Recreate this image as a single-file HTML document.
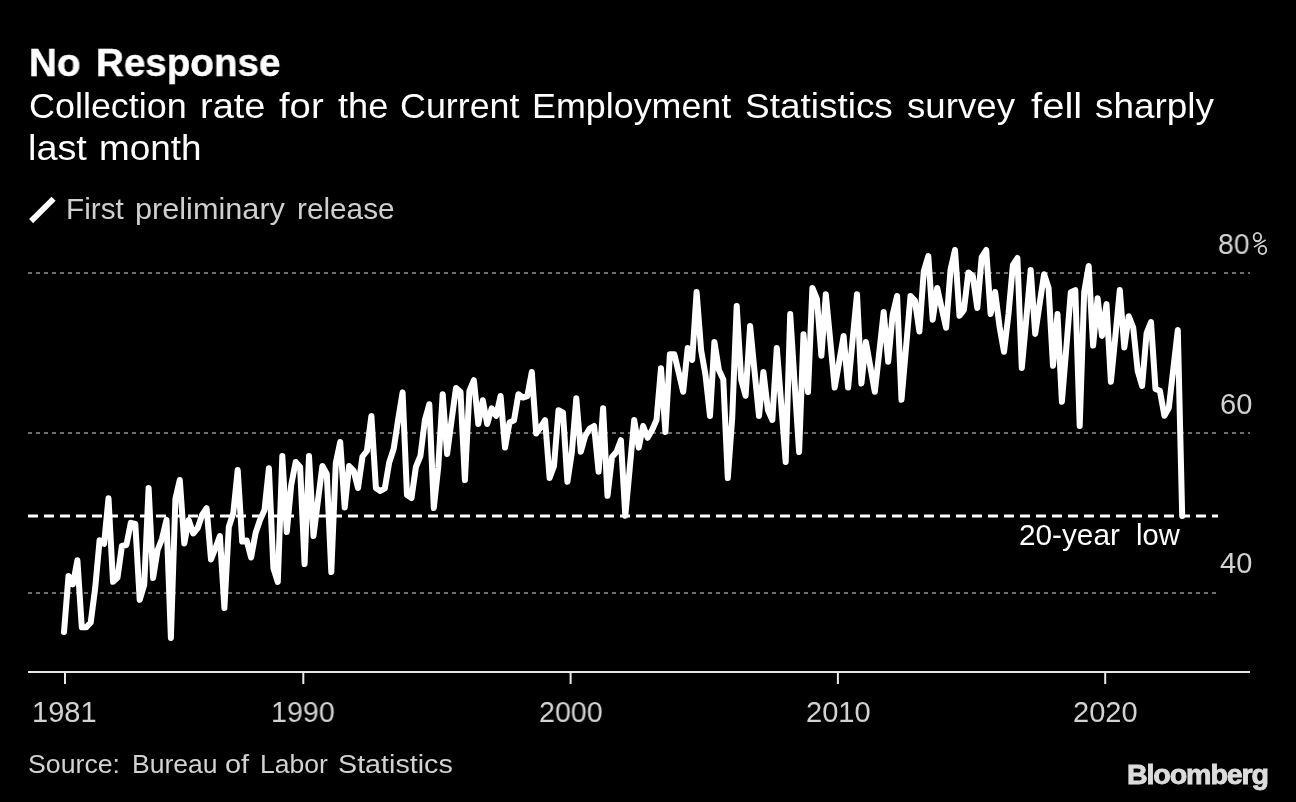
<!DOCTYPE html>
<html><head><meta charset="utf-8"><title>No Response</title>
<style>
html,body{margin:0;padding:0;background:#000;}
body{width:1296px;height:802px;position:relative;overflow:hidden;font-family:"Liberation Sans",sans-serif;}
.t{position:absolute;white-space:nowrap;line-height:1;transform-origin:0 0;color:#fff;will-change:transform;}
.b{font-weight:bold;}
.ti{-webkit-text-stroke:0.45px #fff;}
.g{color:#d2d2d2;}
.lg{color:#cfcfcf;}
.bb{color:#dcdcdc;}
svg{position:absolute;left:0;top:0;}
</style></head><body>

<div class="t b ti" style="left:28.62px;top:43.24px;font-size:39px;transform:scaleX(0.9895)">No</div>
<div class="t b ti" style="left:96.02px;top:43.24px;font-size:39px;transform:scaleX(0.9894)">Response</div>
<div class="t " style="left:29.27px;top:88.27px;font-size:35px;transform:scaleX(1.0263)">Collection</div>
<div class="t " style="left:199.83px;top:88.27px;font-size:35px;transform:scaleX(1.0863)">rate</div>
<div class="t " style="left:279.40px;top:88.27px;font-size:35px;transform:scaleX(1.0925)">for</div>
<div class="t " style="left:337.50px;top:88.27px;font-size:35px;transform:scaleX(1.0331)">the</div>
<div class="t " style="left:400.23px;top:88.27px;font-size:35px;transform:scaleX(1.0239)">Current</div>
<div class="t " style="left:531.70px;top:88.27px;font-size:35px;transform:scaleX(1.0244)">Employment</div>
<div class="t " style="left:744.69px;top:88.27px;font-size:35px;transform:scaleX(1.0557)">Statistics</div>
<div class="t " style="left:907.00px;top:88.27px;font-size:35px;transform:scaleX(1.0474)">survey</div>
<div class="t " style="left:1031.25px;top:88.27px;font-size:35px;transform:scaleX(1.1463)">fell</div>
<div class="t " style="left:1095.00px;top:88.27px;font-size:35px;transform:scaleX(1.0536)">sharply</div>
<div class="t " style="left:28.34px;top:129.87px;font-size:35px;transform:scaleX(1.0807)">last</div>
<div class="t " style="left:99.14px;top:129.87px;font-size:35px;transform:scaleX(1.0527)">month</div>
<div class="t lg" style="left:66.05px;top:195.25px;font-size:29px;transform:scaleX(1.0246)">First</div>
<div class="t lg" style="left:134.54px;top:195.25px;font-size:29px;transform:scaleX(1.0572)">preliminary</div>
<div class="t lg" style="left:296.97px;top:195.25px;font-size:29px;transform:scaleX(1.0260)">release</div>
<div class="t g" style="left:1218.02px;top:230.20px;font-size:29px;transform:scaleX(0.9758)">80</div>
<div class="t g" style="left:1219.80px;top:389.85px;font-size:29px;transform:scaleX(1.0024)">60</div>
<div class="t g" style="left:1220.30px;top:548.85px;font-size:29px;transform:scaleX(0.9862)">40</div>
<div class="t " style="left:1018.72px;top:520.85px;font-size:29px;transform:scaleX(1.0254)">20-year</div>
<div class="t " style="left:1136.19px;top:520.85px;font-size:29px;transform:scaleX(1.0052)">low</div>
<div class="t g" style="left:31.75px;top:697.55px;font-size:29px;transform:scaleX(0.9978)">1981</div>
<div class="t g" style="left:271.43px;top:697.55px;font-size:29px;transform:scaleX(0.9872)">1990</div>
<div class="t g" style="left:538.76px;top:697.55px;font-size:29px;transform:scaleX(0.9858)">2000</div>
<div class="t g" style="left:805.90px;top:697.55px;font-size:29px;transform:scaleX(1.0018)">2010</div>
<div class="t g" style="left:1073.00px;top:697.55px;font-size:29px;transform:scaleX(0.9978)">2020</div>
<div class="t g" style="left:27.89px;top:751.32px;font-size:26.5px;transform:scaleX(1.0072)">Source:</div>
<div class="t g" style="left:131.76px;top:751.32px;font-size:26.5px;transform:scaleX(0.9943)">Bureau</div>
<div class="t g" style="left:225.16px;top:751.32px;font-size:26.5px;transform:scaleX(1.0926)">of</div>
<div class="t g" style="left:259.51px;top:751.32px;font-size:26.5px;transform:scaleX(0.9931)">Labor</div>
<div class="t g" style="left:337.92px;top:751.32px;font-size:26.5px;transform:scaleX(1.0823)">Statistics</div>
<div class="t b bb" style="left:1126.96px;top:760.80px;font-size:28.00px;transform:scaleX(1.0219);letter-spacing:-1.10px;-webkit-text-stroke:0.90px #dcdcdc;">Bloomberg</div>
<svg width="1296" height="802" viewBox="0 0 1296 802">
<line x1="28" y1="273" x2="1216" y2="273" stroke="#6c6c6c" stroke-width="2" stroke-dasharray="4 4"/>
<line x1="28" y1="433" x2="1216" y2="433" stroke="#6c6c6c" stroke-width="2" stroke-dasharray="4 4"/>
<line x1="28" y1="593" x2="1216" y2="593" stroke="#6c6c6c" stroke-width="2" stroke-dasharray="4 4"/>
<line x1="1224" y1="273" x2="1250" y2="273" stroke="#6c6c6c" stroke-width="2" stroke-dasharray="4 4"/>
<line x1="1224" y1="433" x2="1250" y2="433" stroke="#6c6c6c" stroke-width="2" stroke-dasharray="4 4"/>
<rect x="28" y="671" width="1222" height="2" fill="#e8e8e8"/>
<rect x="64" y="672" width="2" height="12" fill="#e8e8e8"/>
<rect x="302.3" y="672" width="2" height="12" fill="#e8e8e8"/>
<rect x="569.6" y="672" width="2" height="12" fill="#e8e8e8"/>
<rect x="836.9" y="672" width="2" height="12" fill="#e8e8e8"/>
<rect x="1104.2" y="672" width="2" height="12" fill="#e8e8e8"/>
<polyline fill="none" stroke="#fff" stroke-width="6" stroke-linejoin="round" stroke-linecap="round" points="64.0,632.0 68.5,576.0 72.9,584.3 77.4,560.3 81.8,627.3 86.3,627.3 90.7,622.5 95.2,588.0 99.6,540.2 104.1,543.8 108.5,498.2 113.0,581.8 117.5,577.5 121.9,546.0 126.4,545.0 130.8,522.8 135.3,524.0 139.7,599.8 144.2,585.0 148.6,488.0 153.1,578.0 157.6,550.0 162.0,538.8 166.5,519.9 170.9,638.0 175.4,499.0 179.8,480.0 184.3,543.5 188.7,520.0 193.2,533.5 197.7,528.0 202.1,515.0 206.6,508.2 211.0,559.5 215.5,548.0 219.9,536.0 224.4,608.0 228.8,527.0 233.3,513.0 237.7,470.0 242.2,541.5 246.7,540.5 251.1,557.5 255.6,533.0 260.0,520.0 264.5,510.0 268.9,468.2 273.4,568.0 277.8,582.0 282.3,456.0 286.8,532.0 291.2,485.0 295.7,462.0 300.1,467.0 304.6,564.0 309.0,456.0 313.5,536.0 317.9,501.0 322.4,466.0 326.8,474.0 331.3,572.0 335.8,463.0 340.2,442.0 344.7,507.6 349.1,466.0 353.6,470.5 358.0,488.0 362.5,456.5 366.9,451.0 371.4,416.0 375.9,488.0 380.3,491.0 384.8,488.5 389.2,462.5 393.7,448.8 398.1,420.0 402.6,392.4 407.0,495.0 411.5,498.0 415.9,467.0 420.4,456.0 424.9,420.0 429.3,404.2 433.8,508.0 438.2,467.5 442.7,394.2 447.1,454.0 451.6,420.0 456.0,388.0 460.5,392.0 464.9,480.0 469.4,391.0 473.9,380.2 478.3,424.0 482.8,400.2 487.2,424.0 491.7,408.4 496.1,415.8 500.6,396.0 505.0,447.6 509.5,422.5 514.0,420.4 518.4,394.2 522.9,397.6 527.3,396.2 531.8,372.0 536.2,433.5 540.7,427.0 545.1,420.2 549.6,478.0 554.0,466.0 558.5,410.2 563.0,412.6 567.4,481.8 571.9,452.0 576.3,398.2 580.8,451.8 585.2,436.0 589.7,428.5 594.1,426.0 598.6,471.8 603.1,408.2 607.5,495.8 612.0,457.0 616.4,452.0 620.9,440.2 625.3,515.8 629.8,467.5 634.2,420.0 638.7,447.6 643.1,426.0 647.6,437.8 652.1,430.0 656.5,420.0 661.0,368.2 665.4,432.0 669.9,354.2 674.3,354.2 678.8,373.0 683.2,391.8 687.7,348.0 692.2,359.9 696.6,292.0 701.1,350.0 705.5,375.0 710.0,416.0 714.4,342.0 718.9,370.0 723.3,379.4 727.8,478.0 732.2,418.0 736.7,305.9 741.2,380.0 745.6,395.8 750.1,325.9 754.5,371.0 759.0,416.0 763.4,372.0 767.9,410.0 772.3,420.0 776.8,348.0 781.3,405.0 785.7,462.0 790.2,314.0 794.6,383.0 799.1,452.0 803.5,334.2 808.0,392.0 812.4,288.0 816.9,299.0 821.4,355.8 825.8,294.2 830.3,341.0 834.7,387.6 839.2,362.0 843.6,336.0 848.1,387.6 852.5,341.0 857.0,294.2 861.4,383.5 865.9,342.0 870.4,367.0 874.8,391.8 879.3,352.0 883.7,312.0 888.2,361.8 892.6,315.0 897.1,296.0 901.5,399.8 906.0,348.0 910.5,296.0 914.9,300.6 919.4,331.5 923.8,271.0 928.3,256.0 932.7,319.7 937.2,288.0 941.6,307.8 946.1,327.8 950.5,270.0 955.0,250.0 959.5,315.7 963.9,310.0 968.4,272.4 972.8,276.0 977.3,308.0 981.7,257.0 986.2,250.0 990.6,314.0 995.1,292.0 999.6,327.0 1004.0,351.8 1008.5,314.0 1012.9,265.0 1017.4,258.0 1021.8,368.0 1026.3,319.0 1030.7,270.0 1035.2,333.9 1039.6,304.0 1044.1,274.2 1048.6,288.0 1053.0,365.8 1057.5,314.0 1061.9,401.8 1066.4,347.0 1070.8,292.2 1075.3,290.2 1079.7,426.0 1084.2,292.0 1088.7,266.0 1093.1,345.6 1097.6,298.2 1102.0,335.9 1106.5,304.1 1110.9,381.8 1115.4,336.0 1119.8,290.0 1124.3,347.6 1128.7,316.2 1133.2,327.5 1137.7,371.0 1142.1,385.9 1146.6,333.0 1151.0,322.0 1155.5,389.0 1159.9,390.8 1164.4,415.8 1168.8,408.0 1173.3,369.0 1177.8,330.0 1182.2,516.0"/>
<line x1="28" y1="516" x2="1218" y2="516" stroke="#fff" stroke-width="3" stroke-dasharray="10 6"/>
<line x1="31.1" y1="221.1" x2="53.6" y2="198.7" stroke="#fff" stroke-width="5.8" stroke-linecap="butt"/>
<ellipse cx="1257.4" cy="237.1" rx="3.7" ry="4.15" fill="none" stroke="#d2d2d2" stroke-width="1.8"/>
<ellipse cx="1262.45" cy="250.0" rx="3.8" ry="4.05" fill="none" stroke="#d2d2d2" stroke-width="1.8"/>
<line x1="1265.7" y1="239.9" x2="1254.0" y2="247.1" stroke="#d2d2d2" stroke-width="1.7"/>
</svg>
</body></html>
